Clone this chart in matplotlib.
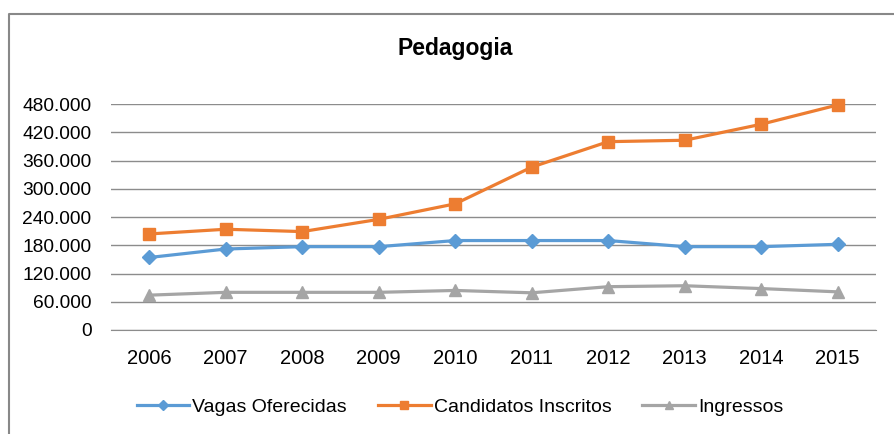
import matplotlib.pyplot as plt
from matplotlib.ticker import FuncFormatter
from matplotlib.lines import Line2D

plt.rcParams['font.family'] = ['Liberation Sans Narrow', 'Liberation Sans', 'DejaVu Sans']

anos = ['2006', '2007', '2008', '2009', '2010', '2011', '2012', '2013', '2014', '2015']
vagas = [154000, 172000, 177000, 177000, 190000, 190000, 190000, 177000, 177000, 182000]
candidatos = [204000, 214000, 209000, 235000, 268000, 346000, 400000, 403000, 437000, 478000]
ingressos = [74000, 80000, 80000, 80000, 84000, 79000, 92000, 94000, 88000, 81000]
y_ticks = [0, 60000, 120000, 180000, 240000, 300000, 360000, 420000, 480000]

fig = plt.figure(figsize=(8.94, 4.34), dpi=100)
ax = fig.add_axes([111/894, 1 - 330/434, 765/894, 226/434])

x = range(len(anos))
ax.plot(x, vagas, color='#5B9BD5', lw=2.3, marker='D', ms=7.5, clip_on=False, label='Vagas Oferecidas')
ax.plot(x, candidatos, color='#ED7D31', lw=2.3, marker='s', ms=8.5, clip_on=False, label='Candidatos Inscritos')
ax.plot(x, ingressos, color='#A5A5A5', lw=2.3, marker='^', ms=8.5, clip_on=False, label='Ingressos')

ax.set_xlim(-0.5, len(anos) - 0.5)
ax.set_ylim(0, 480000)
ax.set_yticks(y_ticks)
ax.yaxis.set_major_formatter(FuncFormatter(lambda v, p: f'{int(v):,}'.replace(',', '.')))
ax.set_xticks(list(x))
ax.set_xticklabels(anos)
ax.tick_params(length=0, labelsize=14.5, colors='#000000')
ax.tick_params(axis='y', labelsize=13.8, pad=14)
ax.tick_params(axis='x', pad=14)
ax.grid(axis='y', color='#8c8c8c', lw=1)
ax.set_axisbelow(True)
for s in ['top', 'right', 'left']:
    ax.spines[s].set_visible(False)
ax.spines['bottom'].set_color('#8c8c8c')

fig.text(455/894, 1 - 49/434, 'Pedagogia', ha='center', va='center',
         fontsize=16.5, fontweight='bold', family=['Liberation Sans', 'DejaVu Sans'])

handles = [Line2D([], [], color='#5B9BD5', lw=2.3, marker='D', ms=5),
           Line2D([], [], color='#ED7D31', lw=2.3, marker='s', ms=6),
           Line2D([], [], color='#A5A5A5', lw=2.3, marker='^', ms=6)]
fig.legend(handles, ['Vagas Oferecidas', 'Candidatos Inscritos', 'Ingressos'],
           loc='center', bbox_to_anchor=(460/894, 1 - 407/434), ncol=3, frameon=False,
           fontsize=14, handlelength=2.7, handletextpad=0.15, columnspacing=1.6)

# chart border (only left and top visible in the crop)
fig.add_artist(Line2D([8.5/894, 8.5/894, 1], [0, 1 - 13.5/434, 1 - 13.5/434],
                      transform=fig.transFigure, color='#888888', lw=1.5))

fig.savefig('out.png', dpi=100)
